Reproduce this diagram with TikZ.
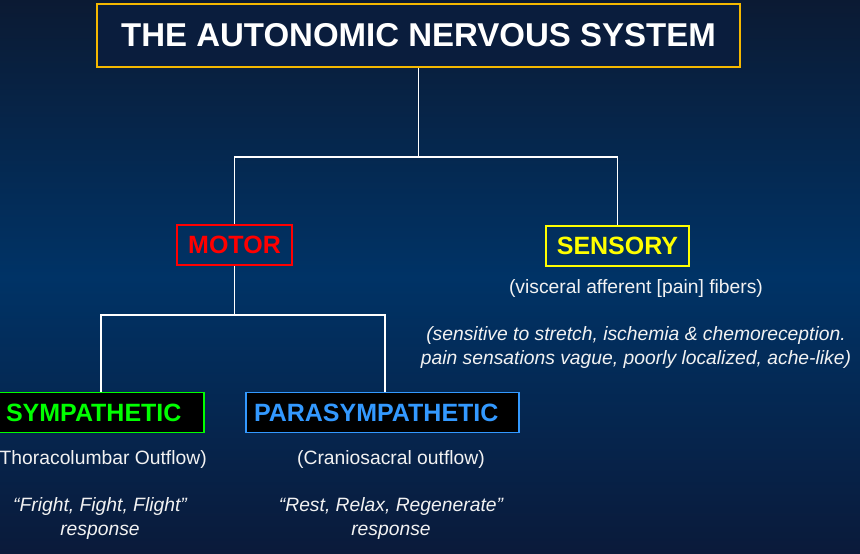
\documentclass[tikz,border=0pt]{standalone}
\usepackage{fontspec}
\setmainfont{Liberation Sans}
\usetikzlibrary{positioning}
\definecolor{bgtop}{HTML}{0B1A33}
\definecolor{bgmid}{HTML}{003366}
\definecolor{bgbot}{HTML}{0A1A3A}
\definecolor{titlefill}{HTML}{0A1D3D}
\definecolor{gold}{HTML}{F5B800}
\definecolor{motred}{HTML}{FF0000}
\definecolor{sensyel}{HTML}{FFFF00}
\definecolor{symgreen}{HTML}{00FF00}
\definecolor{parblue}{HTML}{3399FF}
\definecolor{txt}{HTML}{F2F2F2}

\begin{document}
\begin{tikzpicture}[x=1pt, y=-1pt,
  box/.style={draw, line width=1.6pt, inner ysep=0pt, minimum height=40pt, font=\fontsize{25}{29}\selectfont\bfseries},
  branch/.style={box, fill=black, inner xsep=8pt, align=left},
  note/.style={text=txt, font=\fontsize{19.3}{24}\selectfont, align=center, inner sep=0pt},
  slant/.style={note, font=\fontsize{19.3}{24}\selectfont\itshape},
  link/.style={draw=white, line width=1.2pt}]
  \shade[top color=bgtop, bottom color=bgbot, middle color=bgmid] (0,0) rectangle (860,554);
  \useasboundingbox (0,0) rectangle (860,554);

  \node[draw=gold, fill=titlefill, line width=1.6pt, minimum width=643pt, minimum height=63pt,
        text=white, font=\fontsize{33}{38}\selectfont\bfseries] (title) at (418.5,35.5) {THE AUTONOMIC NERVOUS SYSTEM};

  \node[box, draw=motred, text=motred, minimum width=115pt] (motor) at (234.5,245) {MOTOR};
  \node[box, draw=sensyel, text=sensyel, minimum width=143pt] (sensory) at (617.5,246) {SENSORY};

  \node[note] (sensdesc) at (636,289) {(visceral afferent [pain] fibers)};
  \node[slant] (sensnote) at (636,348)
    {(sensitive to stretch, ischemia \& chemoreception.\\pain sensations vague, poorly localized, ache-like)};

  \node[branch, draw=symgreen, text=symgreen, text width=190pt] (symp) at (101,412.5) {SYMPATHETIC};
  \node[branch, draw=parblue, text=parblue, text width=257pt] (para) at (382.5,412.5) {PARASYMPATHETIC};

  \node[note] (sympout) at (100,460) {(Thoracolumbar Outflow)};
  \node[note] (paraout) at (391,460) {(Craniosacral outflow)};
  \node[slant] (sympresp) at (100,519) {“Fright, Fight, Flight”\\response};
  \node[slant] (pararesp) at (391,519) {“Rest, Relax, Regenerate”\\response};

  \coordinate (bus1) at (0,157);
  \coordinate (bus2) at (0,315);
  \draw[link] (title.south) -- (title.south |- bus1) -| (motor.north);
  \draw[link] (title.south |- bus1) -| (sensory.north);
  \draw[link] (motor.south) -- (motor.south |- bus2) -| (symp.north);
  \draw[link] (motor.south |- bus2) -| ([xshift=2.5pt]para.north);
\end{tikzpicture}
\end{document}
